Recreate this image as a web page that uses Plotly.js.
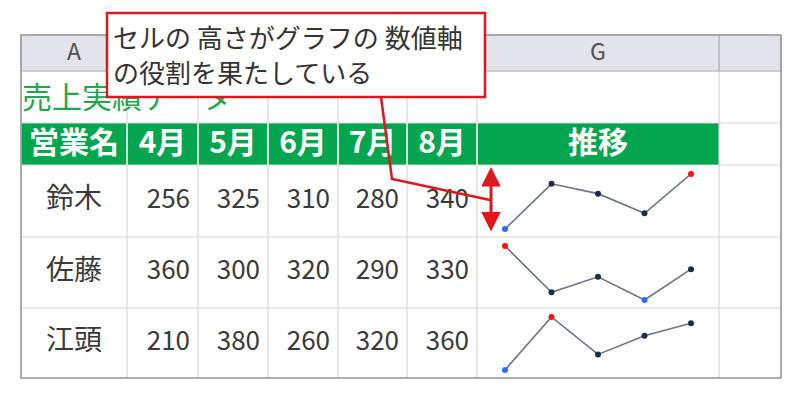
<!DOCTYPE html>
<html>
<head>
<meta charset="utf-8">
<script src="https://cdn.plot.ly/plotly-3.0.1.min.js"></script>
<style>
  html, body { margin: 0; padding: 0; background: #fff; }
  #chart { width: 800px; height: 400px; }
</style>
</head>
<body>
<div id="chart"></div>
<script>
// data from the sheet
const tableTitle = "売上実績データ";
const nameHeader = "営業名";
const trendHeader = "推移";
// B..F letters sit under the callout box in the picture
const colLetters = ["A", "", "", "", "", "", "G", ""];
const months = ["4月", "5月", "6月", "7月", "8月"];
const names = ["鈴木", "佐藤", "江頭"];
const suzuki = [256, 325, 310, 280, 340];
const sato = [360, 300, 320, 290, 330];
const egashira = [210, 380, 260, 320, 360];
const noteLines = ["セルの 高さがグラフの 数値軸", "の役割を果たしている"];

const series = [suzuki, sato, egashira];

// sheet geometry (pixels)
const colEdges = [21, 127, 198, 268, 338, 407, 477, 719, 781];
const rowEdges = [35, 71, 123, 165, 237, 308, 378];
const W = 800, H = 400;
const font = "Noto Sans CJK JP";
const green = "#03a64f";
const textCol = "#3a3a3a";

function mid(a, i) { return (a[i] + a[i + 1]) / 2; }

const traces = [];

// column letters
traces.push({
  x: colLetters.map((c, i) => mid(colEdges, i)),
  y: colLetters.map(() => mid(rowEdges, 0) + 1),
  text: colLetters,
  mode: "text", textposition: "middle center",
  textfont: {family: font, size: 23, color: "#505050"},
  hoverinfo: "skip", xaxis: "x", yaxis: "y"
});

// title
traces.push({
  x: [colEdges[0] + 1], y: [mid(rowEdges, 1) + 3],
  text: [tableTitle],
  mode: "text", textposition: "middle right",
  textfont: {family: font, size: 30, color: "#22a64a"},
  hoverinfo: "skip", xaxis: "x", yaxis: "y"
});

// green header row
const headers = [nameHeader].concat(months, [trendHeader]);
traces.push({
  x: headers.map((h, i) => mid(colEdges, i)),
  y: headers.map(() => mid(rowEdges, 2) + 1),
  text: headers,
  mode: "text", textposition: "middle center",
  textfont: {family: font, size: 30, color: "#fff", weight: "bold"},
  hoverinfo: "skip", xaxis: "x", yaxis: "y"
});

// names
traces.push({
  x: names.map(() => mid(colEdges, 0)),
  y: names.map((n, r) => mid(rowEdges, 3 + r)),
  text: names,
  mode: "text", textposition: "middle center",
  textfont: {family: font, size: 28, color: textCol},
  hoverinfo: "skip", xaxis: "x", yaxis: "y"
});

// values, right aligned
const vx = [], vy = [], vt = [];
series.forEach((s, r) => {
  s.forEach((v, c) => {
    vx.push(colEdges[c + 2] - 8);
    vy.push(mid(rowEdges, 3 + r));
    vt.push(String(v));
  });
});
traces.push({
  x: vx, y: vy, text: vt,
  mode: "text", textposition: "middle left",
  textfont: {family: font, size: 26, color: textCol},
  hoverinfo: "skip", xaxis: "x", yaxis: "y"
});

// sparklines, one small subplot per row
const layout = {
  width: W, height: H,
  margin: {l: 0, r: 0, t: 0, b: 0},
  paper_bgcolor: "#fff", plot_bgcolor: "rgba(0,0,0,0)",
  showlegend: false,
  xaxis: {range: [0, W], domain: [0, 1], visible: false, fixedrange: true},
  yaxis: {range: [H, 0], domain: [0, 1], visible: false, fixedrange: true},
  shapes: [],
  annotations: []
};

const step = 46.5;
const sx0 = 505;
series.forEach((s, r) => {
  const n = r + 2;
  const hi = Math.max(...s), lo = Math.min(...s);
  const colors = s.map(v => v === hi ? "#ff1010" : (v === lo ? "#2f6bff" : "#1c2d4a"));
  traces.push({
    x: months, y: s,
    mode: "lines+markers",
    line: {color: "#6a7588", width: 1.6},
    marker: {color: colors, size: 6},
    cliponaxis: false,
    hoverinfo: "x+y",
    xaxis: "x" + n, yaxis: "y" + n
  });
  const top = rowEdges[3 + r] + 9, bottom = rowEdges[4 + r] - 8;
  layout["xaxis" + n] = {
    domain: [(sx0 - step / 2) / W, (sx0 + step * 4.5) / W],
    range: [-0.5, 4.5], visible: false, fixedrange: true, anchor: "y" + n
  };
  layout["yaxis" + n] = {
    domain: [1 - bottom / H, 1 - top / H],
    range: [lo, hi], visible: false, fixedrange: true, anchor: "x" + n
  };
});

const shp = layout.shapes;
const L = colEdges[0], R = colEdges[colEdges.length - 1];
const T = rowEdges[0], B = rowEdges[rowEdges.length - 1];
// column letter strip
shp.push({type: "rect", xref: "x", yref: "y", layer: "below",
  x0: L, x1: R, y0: rowEdges[0], y1: rowEdges[1], fillcolor: "#e3e4eb", line: {width: 0}});
// green header band
shp.push({type: "rect", xref: "x", yref: "y", layer: "below",
  x0: L, x1: colEdges[7], y0: rowEdges[2], y1: rowEdges[3], fillcolor: green, line: {width: 0}});
// grid
colEdges.forEach(x => {
  shp.push({type: "line", xref: "x", yref: "y", layer: "below",
    x0: x, x1: x, y0: rowEdges[1], y1: B, line: {color: "#d8d8d8", width: 1.2}});
  shp.push({type: "line", xref: "x", yref: "y", layer: "below",
    x0: x, x1: x, y0: T, y1: rowEdges[1], line: {color: "#a9a9b0", width: 1.2}});
});
// light separators inside the green band
colEdges.slice(1, 7).forEach(x => {
  shp.push({type: "line", xref: "x", yref: "y", layer: "below",
    x0: x, x1: x, y0: rowEdges[2], y1: rowEdges[3], line: {color: "#e8f5ec", width: 1.5}});
});
rowEdges.forEach((y, i) => {
  shp.push({type: "line", xref: "x", yref: "y", layer: "below",
    x0: L, x1: R, y0: y, y1: y, line: {color: i <= 1 ? "#a9a9b0" : "#d8d8d8", width: 1.2}});
});
// outer border
shp.push({type: "rect", xref: "x", yref: "y", layer: "below",
  x0: L, x1: R, y0: T, y1: B, line: {color: "#9c9c9c", width: 1.6}});

// callout box and pointer
shp.push({type: "rect", xref: "x", yref: "y", layer: "above",
  x0: 107, x1: 485, y0: 13, y1: 97, fillcolor: "#fff", line: {color: "#e0161c", width: 2.5}});
shp.push({type: "path", xref: "x", yref: "y", layer: "above",
  path: "M 381 97 L 392 179 L 490 200", line: {color: "#e0161c", width: 2.5}});

noteLines.forEach((t, i) => {
  layout.annotations.push({
    xref: "x", yref: "y", x: 111, y: 36 + i * 35,
    xanchor: "left", yanchor: "middle", showarrow: false,
    text: t, font: {family: font, size: 26, color: "#333"}
  });
});
// double headed arrow along the cell height
layout.annotations.push({
  xref: "x", yref: "y", axref: "x", ayref: "y",
  x: 491, y: 167, ax: 491, ay: 233, text: "",
  showarrow: true, arrowside: "end+start", arrowhead: 2, arrowsize: 1.3,
  arrowwidth: 3, arrowcolor: "#e0161c", standoff: 0, startstandoff: 0
});

Plotly.newPlot("chart", traces, layout, {staticPlot: true});
</script>
</body>
</html>
